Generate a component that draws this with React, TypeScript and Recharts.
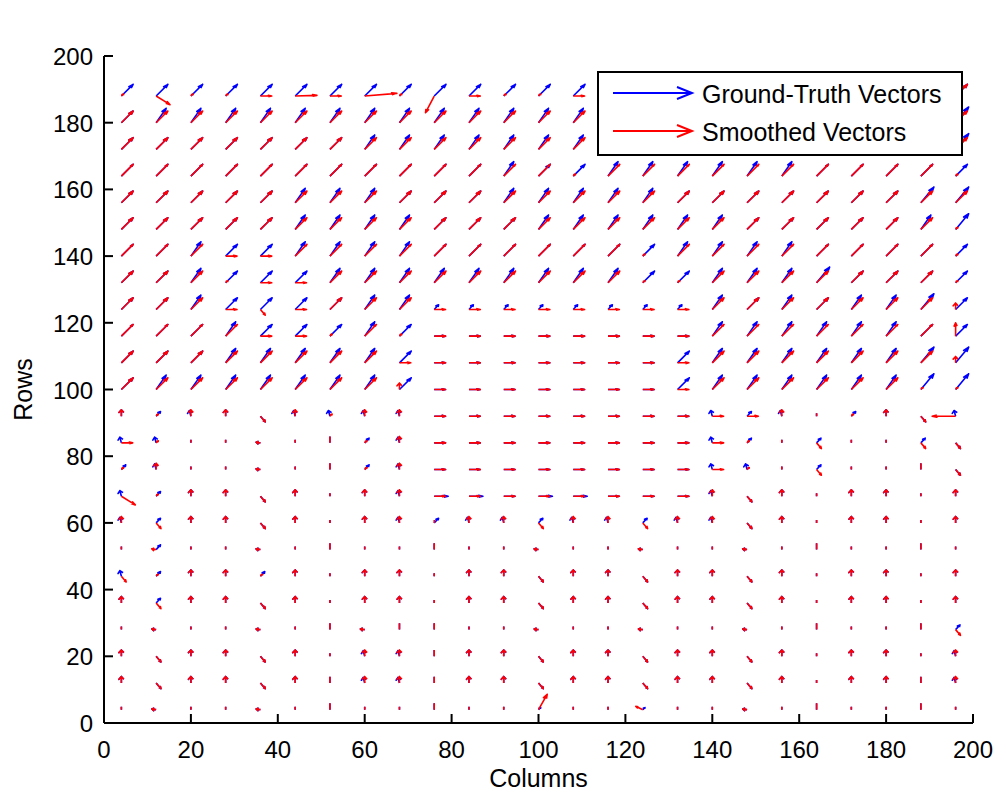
import React from "react";
import { LineChart, Line, XAxis, YAxis, Legend } from "recharts";

// grid of vector bases
const columns = [4, 12, 20, 28, 36, 44, 52, 60, 68, 76, 84, 92, 100, 108, 116, 124, 132, 140, 148, 156, 164, 172, 180, 188, 196];
const rowLevels = [188, 180, 172, 164, 156, 148, 140, 132, 124, 116, 108, 100, 92, 84, 76, 68, 60, 52, 44, 36, 28, 20, 12, 4];
const axisTicks = [0, 20, 40, 60, 80, 100, 120, 140, 160, 180, 200];

// one code per cell (top row first), groups of 5 columns, see arrowShapes
const groundTruthRows = [
  "ddddd ddddd ddddd ddddd ddddd",
  "dbbbb bbbbb bbbbd ddddd ddddB",
  "ddddd ddbbb bbbbd ddddd ddddB",
  "lllll lllll lbddb bbbbb lllld",
  "ddddd bbbdd dbbbb bdddd dddBB",
  "ddddd bbbbd ddbbb bbbdd dddbB",
  "llbdd bbbbl lllll dbbbb lllld",
  "ddbdd dbbbb bbbbb ddbbb Bdddd",
  "ddbdd ddbbs sssss ssbdb dbbBd",
  "lllbd ddbdh hhhhh hhbbb bbbld",
  "dddbb bbbdh hhhhh hdbbb bbbBB",
  "dbbbb bbbdh hhhhh hdbbb bbbBB",
  "+sx+r xxxxh hhhhh hhxsx .s+rx",
  "xx..e .|sxh hhhhh hhxs. s..sr",
  "sx..e .|sxh hhhhh hhxx. s..|r",
  "xs++r +.+xk khkkh hhxr+ .++.+",
  "xs++r +.+xs xxsxx sxxr+ .++.+",
  ".s..e .|..| ..e.. e..e. |..|.",
  "xs++s +.++. ++r++ r++r+ .++.+",
  "+s++r +.++. ++r++ r++r+ .++.+",
  ".e..e .|e|| ..e.. e..e. |..|s",
  "+r++r +.xx| ++r++ r++r+ .++.x",
  "+r++r +|xx| ++r++ r++r+ .++|x",
  ".e..e .|..| ..o.. o..e. |..|.",
];

const smoothedRows = [
  "oqooh HhWog hoohd ddddd ddddd",
  "ddddd ddddd ddddd ddddd ddddd",
  "ddddd ddddd ddddd ddddd ddddd",
  "lllll lllll lllol lllll llllo",
  "ddddd ddddd ddddd ddddd ddddd",
  "ddddd ddddd ddddd ddddd ddddo",
  "lllhh lllll lllll ollll llllo",
  "dddoh hdddd ddddd ooddd ddddo",
  "dddhr hdddh hhhhh hhddd dddd+",
  "llllh holoh hhhhh hhlll llllv",
  "ddddd dddhh hhhhh hhddd dddd+",
  "ddddd ddd+h hhhhh hhddd dddoo",
  "+o++r +o++h hhhhh hhhh+ .o+rL",
  "ho..e .|o+h hhhhh hhho. r..rr",
  "o+..e .|o+h hhhhh hhho. r..|r",
  "qo++r +.++h hhhhh hh+r+ .++.+",
  "+r++r +.++. ++r++ r++r+ .++.+",
  ".e..e .|..| ..e.. e..e. |..|.",
  "ro++o +.++. ++r++ r++r+ .++.+",
  "+r++r +.++. ++r++ r++r+ .++.+",
  ".e..e .|e|| ..e.. e..e. |..|r",
  "+r++r +.++| ++r++ r++r+ .++.+",
  "+r++r +|++| ++r++ r++r+ .++|+",
  ".e..e .|..| ..u.. w..e. |..|.",
];

// code -> [u, v, head length, head spread] in data units
const arrowShapes: Record<string, number[]> = {
  d: [2.7, 3.5, 0.26, 0.3],
  l: [2.7, 3.5, 0.16, 0.25],
  b: [2.3, 4.3, 0.26, 0.3],
  B: [3.0, 4.7, 0.26, 0.3],
  h: [2.6, 0, 0.3, 0.3],
  k: [3.2, 0, 0.3, 0.3],
  H: [5.0, 0.2, 0.2, 0.25],
  W: [7.4, 0.8, 0.16, 0.25],
  o: [0.5, 0.6, 0.4, 0.6],
  s: [1.0, 1.4, 0.35, 0.5],
  "+": [0, 1.9, 0.42, 0.7],
  x: [-0.35, 1.7, 0.45, 0.75],
  ".": [0, 0.9, 0, 0],
  "|": [0, 1.9, 0, 0],
  r: [1.1, -1.7, 0.3, 0.4],
  e: [-1.0, 0.2, 0.5, 0.8],
  q: [3.2, -2.6, 0.25, 0.3],
  g: [-2.0, -5.0, 0.2, 0.3],
  u: [2.0, 4.6, 0.25, 0.3],
  w: [-1.6, 1.0, 0.3, 0.4],
  L: [-5.4, 0, 0.2, 0.3],
  v: [0, 4.0, 0.25, 0.35],
};

// quiver-style polyline per cell, broken with null gaps
function buildField(grid: string[]) {
  const pts: { x: number; y: number | null }[] = [];
  grid.forEach((line, j) => {
    const codes = line.replace(/\s/g, "");
    columns.forEach((x, i) => {
      const [u, v, a, b] = arrowShapes[codes[i]] || arrowShapes["."];
      const y = rowLevels[j];
      const tx = x + u;
      const ty = y + v;
      pts.push({ x, y }, { x: tx, y: ty });
      if (a > 0) {
        pts.push(
          { x: tx - a * (u + b * v), y: ty - a * (v - b * u) },
          { x: tx, y: ty },
          { x: tx - a * (u - b * v), y: ty - a * (v + b * u) }
        );
      }
      pts.push({ x: tx, y: null });
    });
  });
  return pts;
}

const groundTruth = buildField(groundTruthRows);
const smoothed = buildField(smoothedRows);

const FONT = '"Liberation Sans", Arial, Helvetica, sans-serif';
const TICK_LEN = 9;
const axisStroke = { stroke: "#000", strokeWidth: 2 };

const BottomTick = ({ x, y, payload }: any) => (
  <g>
    <line x1={x} y1={y} x2={x} y2={y - TICK_LEN} stroke="#000" strokeWidth={2} />
    <text x={x} y={y + 35} textAnchor="middle" fontSize={24} fontFamily={FONT} fill="#000">
      {payload.value}
    </text>
  </g>
);

const LeftTick = ({ x, y, payload }: any) => (
  <g>
    <line x1={x} y1={y} x2={x + TICK_LEN} y2={y} stroke="#000" strokeWidth={2} />
    <text x={x - 11} y={y + 9} textAnchor="end" fontSize={24} fontFamily={FONT} fill="#000">
      {payload.value}
    </text>
  </g>
);

const TopTick = ({ x, y }: any) => (
  <line x1={x} y1={y} x2={x} y2={y + TICK_LEN} stroke="#000" strokeWidth={2} />
);

const RightTick = ({ x, y }: any) => (
  <line x1={x} y1={y} x2={x - TICK_LEN} y2={y} stroke="#000" strokeWidth={2} />
);

const FieldLegend = ({ payload }: any) => {
  const items =
    payload && payload.length
      ? payload
      : [
          { value: "Ground-Truth Vectors", color: "#0000ff" },
          { value: "Smoothed Vectors", color: "#ff0000" },
        ];
  return (
    <div style={{ width: 366, height: 85, boxSizing: "border-box", border: "2px solid #000", background: "#fff" }}>
      <svg width={362} height={81} style={{ display: "block" }}>
        {items.map((it: any, i: number) => {
          const cy = 20 + i * 38;
          return (
            <g key={it.value}>
              <line x1={14} y1={cy} x2={93} y2={cy} stroke={it.color} strokeWidth={2} />
              <polyline
                points={`${78},${cy - 6} ${93},${cy} ${78},${cy + 6}`}
                fill="none"
                stroke={it.color}
                strokeWidth={2}
              />
              <text x={103} y={cy + 10} fontSize={25} fontFamily={FONT} fill="#000">
                {it.value}
              </text>
            </g>
          );
        })}
      </svg>
    </div>
  );
};

export default function App() {
  return (
    <div style={{ position: "absolute", left: 0, top: 0, width: 997, height: 792, background: "#fff" }}>
      <LineChart width={997} height={792} margin={{ top: 56, right: 24, bottom: 24, left: 44 }}>
        <XAxis
          dataKey="x"
          type="number"
          domain={[0, 200]}
          ticks={axisTicks}
          interval={0}
          allowDataOverflow
          tickLine={false}
          tickSize={0}
          tickMargin={0}
          axisLine={axisStroke}
          height={45}
          tick={(p: any) => <BottomTick {...p} />}
          label={{
            content: ({ viewBox }: any) => {
              const vb = viewBox || { x: 104, y: 723, width: 869, height: 45 };
              return (
                <text x={vb.x + vb.width / 2} y={vb.y + 64} textAnchor="middle" fontSize={25} fontFamily={FONT} fill="#000">
                  Columns
                </text>
              );
            },
          }}
        />
        <XAxis
          xAxisId="top"
          orientation="top"
          dataKey="x"
          type="number"
          domain={[0, 200]}
          ticks={axisTicks}
          interval={0}
          allowDataOverflow
          tickLine={false}
          tickSize={0}
          tickMargin={0}
          axisLine={axisStroke}
          height={0}
          tick={(p: any) => <TopTick {...p} />}
          label={{
            content: ({ viewBox }: any) => {
              const vb = viewBox || { x: 104, y: 56, width: 869, height: 0 };
              return (
                <text x={vb.x + vb.width / 2} y={vb.y - 20} textAnchor="middle" fontSize={25.5} fontFamily={FONT} fill="#000">
                  Ground-Truth Vector Field vs. Smoothed Vector Field
                </text>
              );
            },
          }}
        />
        <YAxis
          type="number"
          domain={[0, 200]}
          ticks={axisTicks}
          interval={0}
          allowDataOverflow
          tickLine={false}
          tickSize={0}
          tickMargin={0}
          axisLine={axisStroke}
          width={60}
          tick={(p: any) => <LeftTick {...p} />}
          label={{
            content: ({ viewBox }: any) => {
              const vb = viewBox || { x: 44, y: 56, width: 60, height: 667 };
              const lx = vb.x - 12;
              const ly = vb.y + vb.height / 2;
              return (
                <text x={lx} y={ly} transform={`rotate(-90, ${lx}, ${ly})`} textAnchor="middle" fontSize={25} fontFamily={FONT} fill="#000">
                  Rows
                </text>
              );
            },
          }}
        />
        <YAxis
          yAxisId="right"
          orientation="right"
          type="number"
          domain={[0, 200]}
          ticks={axisTicks}
          interval={0}
          allowDataOverflow
          tickLine={false}
          tickSize={0}
          tickMargin={0}
          axisLine={axisStroke}
          width={0}
          tick={(p: any) => <RightTick {...p} />}
        />
        <Legend
          layout="horizontal"
          verticalAlign="middle"
          align="center"
          content={(props: any) => <FieldLegend {...props} />}
          wrapperStyle={{ left: 597, top: 71, width: 366, height: 85 }}
        />
        <Line
          data={groundTruth}
          dataKey="y"
          name="Ground-Truth Vectors"
          type="linear"
          stroke="#0000ff"
          strokeWidth={1.6}
          strokeLinejoin="round"
          dot={false}
          activeDot={false}
          connectNulls={false}
          isAnimationActive={false}
        />
        <Line
          data={smoothed}
          dataKey="y"
          name="Smoothed Vectors"
          type="linear"
          stroke="#ff0000"
          strokeWidth={1.6}
          strokeLinejoin="round"
          dot={false}
          activeDot={false}
          connectNulls={false}
          isAnimationActive={false}
        />
      </LineChart>
    </div>
  );
}
